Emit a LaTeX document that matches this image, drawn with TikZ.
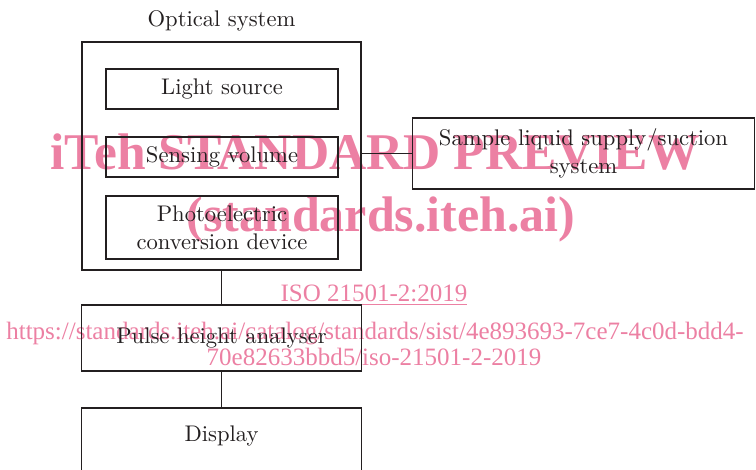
\documentclass[tikz,border=0pt]{standalone}
\usepackage{fontspec}
\newfontfamily\wmfont{Liberation Serif}
\newfontfamily\boxfont{lmroman10-regular.otf}
\definecolor{ink}{RGB}{35,31,32}
\definecolor{wmpink}{RGB}{236,128,163}

\begin{document}
\begin{tikzpicture}[x=1pt, y=-1pt, line width=1.5pt,
    box/.style={draw=ink, text=ink, inner sep=0pt, align=center,
        font=\boxfont\fontsize{22.6}{28}\selectfont},
    title/.style={text=ink, inner sep=0pt, font=\boxfont\fontsize{22.6}{28}\selectfont},
    wm/.style={text=wmpink, inner sep=0pt, anchor=base, font=\wmfont\fontsize{25}{30}\selectfont},
    wmbig/.style={wm, font=\wmfont\bfseries\fontsize{51.5}{56}\selectfont}]
    \useasboundingbox (0,0) rectangle (756,470);

    % ===== watermark =====
    \node[wmbig] (wmA) at (375,170) {iTeh STANDARD PREVIEW};
    \node[wmbig, font=\wmfont\bfseries\fontsize{50}{56}\selectfont] (wmB) at (381,232) {(standards.iteh.ai)};
    \node[wm] (wmC) at (374,302) {\underline{ISO 21501-2:2019}};
    \node[wm] (wmD) at (375,340) {https://standards.iteh.ai/catalog/standards/sist/4e893693-7ce7-4c0d-bdd4-};
    \node[wm] (wmE) at (374,366) {70e82633bbd5/iso-21501-2-2019};

    % ===== optical system =====
    \node[box, minimum width=279pt, minimum height=228pt] (optical) at (221.5,156) {};
    \node[title, anchor=base] (opticaltitle) at (221.5,27) {Optical system};
    \node[box, minimum width=232pt, minimum height=40pt] (source) at (222,89) {Light source};
    \node[box, minimum width=232pt, minimum height=40pt] (sensing) at (222,157) {Sensing volume};
    \node[box, minimum width=232pt, minimum height=63pt] (photo) at (222,227.5)
        {Photoelectric\\conversion device};

    % ===== sample liquid =====
    \node[box, minimum width=342pt, minimum height=71pt] (sample) at (583.5,153.5)
        {Sample liquid supply/suction\\system};
    \draw[ink] (sample.west) -- (sample.west -| optical.east);

    % ===== signal chain =====
    \node[box, minimum width=280pt, minimum height=66pt] (pulse) at (221.5,338) {Pulse height analyser};
    \node[box, minimum width=280pt, minimum height=80pt] (display) at (221.5,448) {};
    \node[title] (displaytext) at (221.5,436) {Display};
    \draw[ink] (optical) -- (pulse);
    \draw[ink] (pulse) -- (display);
\end{tikzpicture}
\end{document}
